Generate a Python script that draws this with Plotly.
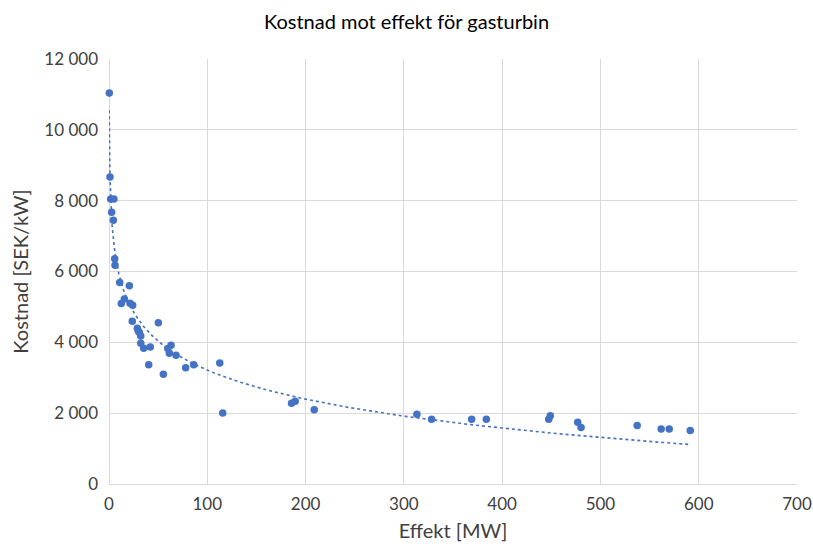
import numpy as np
import plotly.graph_objects as go

effekt_mw = [0.3, 1.0, 1.7, 5.0, 2.7, 4.4, 5.8, 6.1, 10.9, 20.7, 15.6, 12.5, 21.4, 24.1,
             23.7, 50.2, 28.8, 29.8, 30.9, 32.3, 32.3, 35.3, 42.0, 63.1, 59.8, 61.4,
             68.2, 40.4, 55.3, 78.0, 86.2, 112.7, 115.7, 185.7, 189.4, 208.8, 313.3,
             328.2, 369.0, 383.9, 449.0, 447.4, 476.9, 480.3, 537.4, 561.8, 570.0, 591.4]
kostnad = [11040, 8670, 8050, 8050, 7675, 7450, 6360, 6180, 5690, 5595, 5225, 5095, 5105, 5050,
           4595, 4550, 4400, 4320, 4275, 4180, 3975, 3835, 3870, 3915, 3825, 3690,
           3635, 3370, 3100, 3285, 3370, 3420, 2005, 2280, 2335, 2100, 1970,
           1830, 1830, 1830, 1930, 1830, 1745, 1595, 1650, 1555, 1555, 1510]

title = "Kostnad mot effekt för gasturbin"
x_title = "Effekt [MW]"
y_title = "Kostnad [SEK/kW]"

blue = "#4472C4"
grid = "#d9d9d9"
font_family = "Lato, 'Open Sans', sans-serif"

# Logarithmic trendline (least squares on ln x), drawn from a slightly lower start
xs = np.array(effekt_mw)
ys = np.array(kostnad)
b, a = np.polyfit(np.log(xs), ys, 1)
tx = np.geomspace(0.2, xs.max(), 500)
ty = a + b * np.log(tx)

fig = go.Figure()
fig.add_trace(go.Scatter(x=tx, y=ty, mode="lines",
                         line=dict(color=blue, width=1.6, dash="dot"),
                         hoverinfo="skip", showlegend=False))
fig.add_trace(go.Scatter(x=effekt_mw, y=kostnad, mode="markers",
                         marker=dict(color=blue, size=7.5),
                         cliponaxis=False, showlegend=False))

fig.update_layout(
    width=813, height=550,
    margin=dict(l=109, r=16, t=59, b=66, autoexpand=False),
    paper_bgcolor="white", plot_bgcolor="white",
    separators=", ",
    font=dict(family=font_family, color="#404040"),
    title=dict(text=title, x=0.5, xanchor="center", y=1 - 22 / 550, yanchor="middle",
               font=dict(size=20, color="#000000", family=font_family)),
    xaxis=dict(range=[0, 700], dtick=100, tick0=0, showgrid=True, gridcolor=grid, gridwidth=1,
               zeroline=True, zerolinecolor=grid, zerolinewidth=1,
               showline=False, ticks="", tickfont=dict(size=17, color="#404040"),
               ticklabelstandoff=8, automargin=False,
               title=dict(text=x_title, font=dict(size=20, color="#404040"), standoff=10)),
    yaxis=dict(range=[0, 12000], dtick=2000, tick0=0, showgrid=True, gridcolor=grid, gridwidth=1,
               zeroline=True, zerolinecolor=grid, zerolinewidth=1, tickformat=",d",
               showline=False, ticks="", tickfont=dict(size=17, color="#404040"),
               ticklabelstandoff=10, automargin=False,
               title=dict(text=y_title, font=dict(size=20, color="#404040"), standoff=10)),
)
fig.write_html("out.html")
